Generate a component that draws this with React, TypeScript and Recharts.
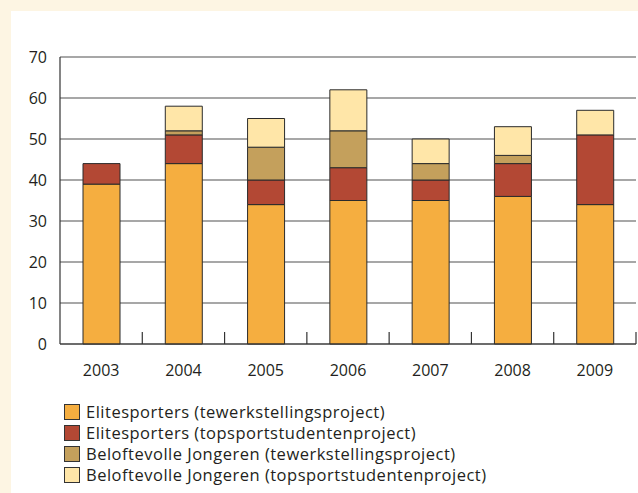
import React from 'react';
import { BarChart, Bar, XAxis, YAxis, CartesianGrid, Legend } from 'recharts';

const years = ['2003', '2004', '2005', '2006', '2007', '2008', '2009'];
const eliteTewerk = [39, 44, 34, 35, 35, 36, 34];
const eliteTopsport = [5, 7, 6, 8, 5, 8, 17];
const belofteTewerk = [0, 1, 8, 9, 4, 2, 0];
const belofteTopsport = [0, 6, 7, 10, 6, 7, 6];
const yTicks = [0, 10, 20, 30, 40, 50, 60, 70];

const seriesNames = [
  'Elitesporters (tewerkstellingsproject)',
  'Elitesporters (topsportstudentenproject)',
  'Beloftevolle Jongeren (tewerkstellingsproject)',
  'Beloftevolle Jongeren (topsportstudentenproject)',
];
const colors = ['#F5AE40', '#B34834', '#C4A05C', '#FFE6A8'];

const data = years.map((y, i) => ({
  year: y,
  s0: eliteTewerk[i],
  s1: eliteTopsport[i],
  s2: belofteTewerk[i],
  s3: belofteTopsport[i],
}));

const FONT = '"Open Sans", "Noto Sans", sans-serif';
const TEXT = '#231f20';
const BAND = 576 / 7;

const XTick = (props: any) => {
  const { x, y, payload } = props;
  const half = payload && payload.offset ? payload.offset : BAND / 2;
  return (
    <g>
      <line x1={x + half} x2={x + half} y1={y} y2={y - 12} stroke="#333" strokeWidth={1.2} />
      <text x={x} y={y + 32} textAnchor="middle" fill={TEXT} fontSize={16} fontFamily={FONT}>
        {payload.value}
      </text>
    </g>
  );
};

const LegendContent = () => (
  <div style={{ fontFamily: FONT, fontSize: 16.5, letterSpacing: 0.5, color: TEXT }}>
    {seriesNames.map((n, i) => (
      <div key={n} style={{ display: 'flex', alignItems: 'center', height: 21, whiteSpace: 'nowrap' }}>
        <span
          style={{
            display: 'inline-block',
            width: 14,
            height: 14,
            background: colors[i],
            border: '1px solid #333',
            marginRight: 6,
            flex: 'none',
          }}
        />
        <span>{n}</span>
      </div>
    ))}
  </div>
);

export default function App() {
  return (
    <div style={{ position: 'absolute', left: 0, top: 0, width: 638, height: 493, background: '#FDF5E3', overflow: 'hidden' }}>
      <div style={{ position: 'absolute', left: 11, top: 11, width: 627, height: 482, background: '#ffffff' }} />
      <div style={{ position: 'absolute', left: 0, top: 0 }}>
        <BarChart
          width={638}
          height={493}
          data={data}
          margin={{ top: 57, right: 2, left: 0, bottom: 109 }}
          barSize={37}
        >
          <CartesianGrid vertical={false} stroke="#8a8a8a" strokeWidth={1.5} />
          <XAxis
            dataKey="year"
            height={40}
            interval={0}
            tickLine={false}
            tickSize={0}
            tickMargin={0}
            axisLine={{ stroke: '#333', strokeWidth: 1.2 }}
            tick={<XTick />}
          />
          <YAxis
            width={60}
            domain={[0, 70]}
            ticks={yTicks}
            interval={0}
            tickLine={false}
            tickSize={0}
            tickMargin={13}
            axisLine={{ stroke: '#333', strokeWidth: 1.2 }}
            tick={{ fill: TEXT, fontSize: 16, fontFamily: FONT }}
          />
          {['s0', 's1', 's2', 's3'].map((k, i) => (
            <Bar
              key={k}
              dataKey={k}
              name={seriesNames[i]}
              stackId="a"
              fill={colors[i]}
              stroke="#2b2b2b"
              strokeWidth={1}
              isAnimationActive={false}
            />
          ))}
          <Legend
            layout="vertical"
            align="center"
            verticalAlign="middle"
            content={<LegendContent />}
            wrapperStyle={{ left: 64, top: 401, width: 'auto', height: 'auto' }}
          />
        </BarChart>
      </div>
    </div>
  );
}
